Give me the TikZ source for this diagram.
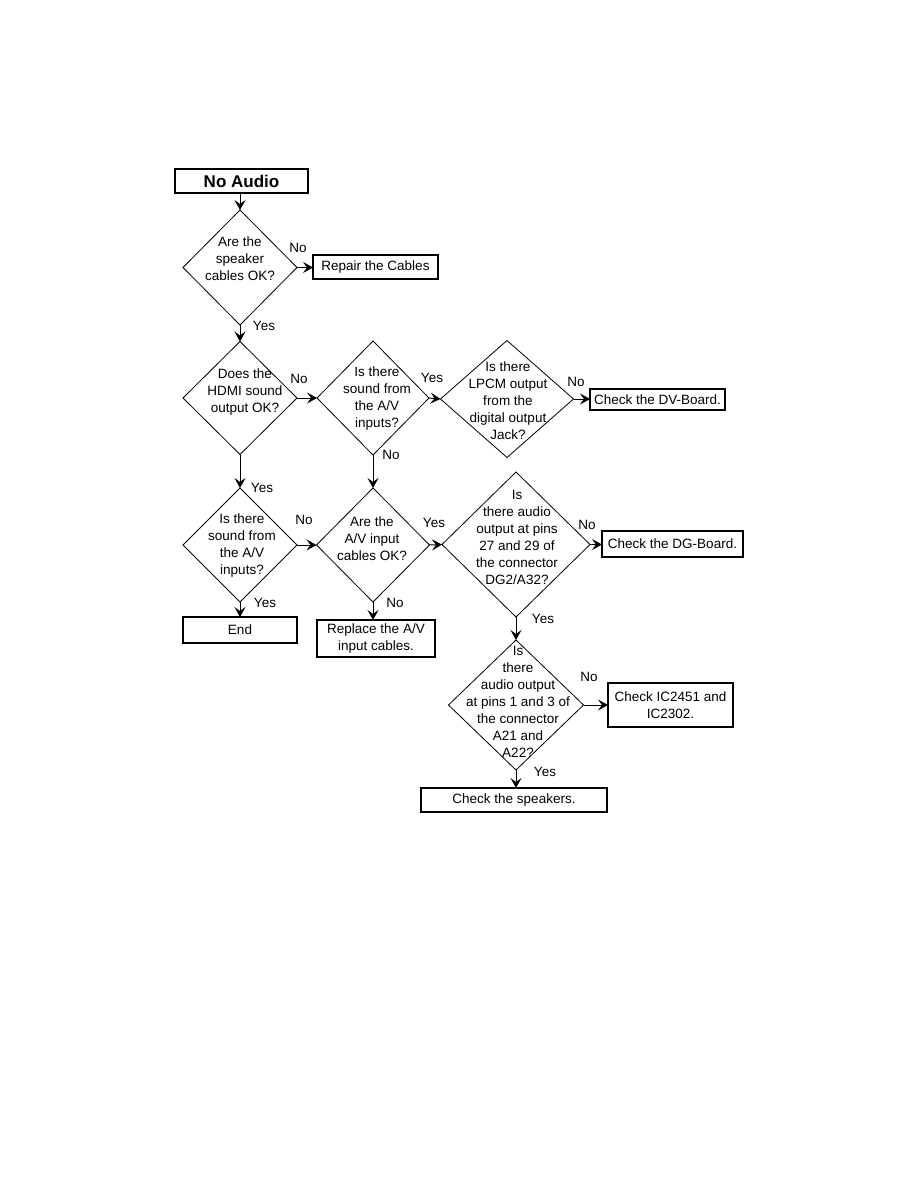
\documentclass[tikz,border=0pt]{standalone}
\usepackage{fontspec}
\setmainfont{Liberation Sans}
\usetikzlibrary{shapes.geometric,arrows.meta}
\begin{document}
\begin{tikzpicture}[x=1pt,y=-1pt,
  every node/.style={font=\fontsize{13.5}{17}\selectfont, inner sep=0pt, outer sep=0pt},
  dia/.style={diamond, draw, line width=0.8pt},
  box/.style={rectangle, draw, line width=1.1pt, align=center},
  txt/.style={align=center},
  arr/.style={line width=1pt, -{Stealth[length=10pt,width=11pt,inset=4pt]}}]
\fill[white] (0,0) rectangle (918,1188);
\useasboundingbox (0,0) rectangle (918,1188);

% boxes
\node[box, minimum width=133pt, minimum height=24pt, font=\fontsize{17}{20}\selectfont\bfseries] (title) at (241.5,181) {No Audio};
\node[box, minimum width=125pt, minimum height=24pt] (repair) at (375.5,267) {Repair the Cables};
\node[box, minimum width=135pt, minimum height=21pt] (dv) at (657.5,399.5) {Check the DV-Board.};
\node[box, minimum width=141pt, minimum height=26pt] (dg) at (672.5,544) {Check the DG-Board.};
\node[box, minimum width=114pt, minimum height=26pt] (end) at (240,630) {End};
\node[box, minimum width=118pt, minimum height=37pt] (replace) at (376,638.5) {Replace the A/V\\input cables.};
\node[box, minimum width=125pt, minimum height=44pt] (ic) at (670.5,705) {Check IC2451 and\\IC2302.};
\node[box, minimum width=186pt, minimum height=24pt] (spk) at (514,800) {Check the speakers.};

% diamonds
\node[dia, minimum width=114pt, minimum height=115pt] (d1) at (240,267.5) {};
\node[dia, minimum width=114pt, minimum height=113pt] (d2) at (240,398) {};
\node[dia, minimum width=112pt, minimum height=114pt] (d3) at (373,398) {};
\node[dia, minimum width=133pt, minimum height=117pt] (d4) at (507,399) {};
\node[dia, minimum width=114pt, minimum height=114pt] (d5) at (240,545) {};
\node[dia, minimum width=113pt, minimum height=114pt] (d6) at (373,545) {};
\node[dia, minimum width=148pt, minimum height=145pt] (d7) at (516,544.5) {};
\node[dia, minimum width=135pt, minimum height=130pt] (d8) at (516,705) {};

% diamond texts
\node[txt] (t1) at (240,259) {Are the\\speaker\\cables OK?};
\node[txt] (t2) at (245,392) {Does the\\HDMI sound\\output OK?};
\node[txt] (t3) at (377,398.5) {Is there\\sound from\\the A/V\\inputs?};
\node[txt] (t4) at (508,400.5) {Is there\\LPCM output\\from the\\digital output\\Jack?};
\node[txt] (t5) at (242,545.5) {Is there\\sound from\\the A/V\\inputs?};
\node[txt] (t6) at (372,539) {Are the\\A/V input\\cables OK?};
\node[txt] (t7) at (517,537.5) {Is\\there audio\\output at pins\\27 and 29 of\\the connector\\DG2/A32?};
\node[txt] (t8) at (518,702) {Is\\there\\audio output\\at pins 1 and 3 of\\the connector\\A21 and\\A22?};

% connectors
\draw[arr] (title.south -| d1.north) -- (d1.north);
\draw[arr] (d1.east) -- (repair.west |- d1.east);
\draw[arr] (d1.south) -- (d2.north);
\draw[arr] (d2.east) -- (d3.west);
\draw[arr] (d3.east) -- (d4.west);
\draw[arr] (d4.east) -- (dv.west |- d4.east);
\draw[arr] (d2.south) -- (d5.north);
\draw[arr] (d3.south) -- (d6.north);
\draw[arr] (d5.east) -- (d6.west);
\draw[arr] (d6.east) -- (d7.west);
\draw[arr] (d7.east) -- (dg.west |- d7.east);
\draw[arr] (d5.south) -- (end.north);
\draw[arr] (d6.south) -- (d6.south |- replace.north);
\draw[arr] (d7.south) -- (d8.north);
\draw[arr] (d8.east) -- (ic.west |- d8.east);
\draw[arr] (d8.south) -- (d8.south |- spk.north);

% labels
\node (l1) at (298,248) {No};
\node (l2) at (264,326) {Yes};
\node (l3) at (299,379) {No};
\node (l4) at (432,378) {Yes};
\node (l5) at (391,455) {No};
\node (l6) at (262,488) {Yes};
\node (l7) at (576,382) {No};
\node (l8) at (304,520) {No};
\node (l9) at (434,523) {Yes};
\node (l10) at (265,603) {Yes};
\node (l11) at (395,603) {No};
\node (l12) at (587,525) {No};
\node (l13) at (543,619) {Yes};
\node (l14) at (589,677) {No};
\node (l15) at (545,772) {Yes};
\end{tikzpicture}
\end{document}
